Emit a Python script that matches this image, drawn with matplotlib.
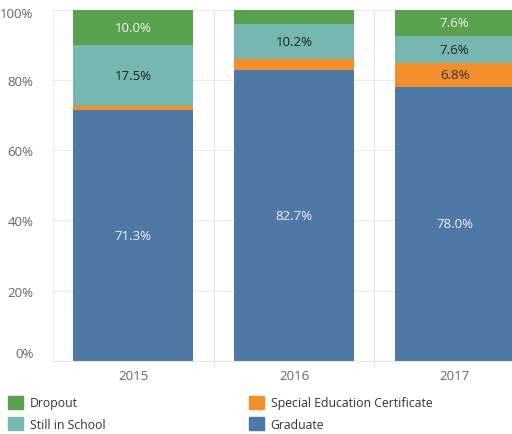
import matplotlib.pyplot as plt
import matplotlib.patches as mpatches
import matplotlib.transforms as mtransforms
import numpy as np

plt.rcParams['font.family'] = ['Open Sans', 'DejaVu Sans']

years = ['2015', '2016', '2017']
graduate = [71.3, 82.7, 78.0]
special_ed = [1.2, 3.1, 6.8]
still_in_school = [17.5, 10.2, 7.6]
dropout = [10.0, 4.0, 7.6]

# (name, values, colour, label colour)
series = [
    ('Graduate', graduate, '#4E79A7', '#EEF2F7'),
    ('Special Education Certificate', special_ed, '#F28E2B', '#333333'),
    ('Still in School', still_in_school, '#76B7B2', '#222222'),
    ('Dropout', dropout, '#59A14F', '#EEF5EC'),
]

fig = plt.figure(figsize=(5.12, 4.35), dpi=100)
ax = fig.add_axes([53 / 512, 1 - 362 / 435, 1 - 53 / 512, 351.5 / 435])

slot = 160.7
x = np.arange(len(years))
bottom = np.zeros(len(years))
for name, vals, col, tcol in series:
    vals = np.array(vals)
    ax.bar(x, vals, bottom=bottom, width=120 / slot, color=col, zorder=2)
    for xi, b, v in zip(x, bottom, vals):
        if v >= 5:
            ax.text(xi, b + v / 2, f'{v:.1f}%', ha='center', va='center',
                    fontsize=9.5, color=tcol, zorder=3)
    bottom += vals

ax.set_xlim(-0.5, -0.5 + (512 - 53) / slot)
ax.set_ylim(0, 100)
ax.set_yticks(np.arange(0, 101, 20))
ax.set_yticklabels([f'{v}%' for v in range(0, 101, 20)])
ax.set_xticks(x)
ax.set_xticklabels(years)
ax.set_xticks([0.5, 1.5], minor=True)
ax.tick_params(axis='both', which='major', length=0, labelsize=9.5, labelcolor='#666666')
ax.tick_params(axis='x', which='minor', length=4, color='#E6E6E6', width=0.8)
ax.tick_params(axis='x', pad=6)
ax.tick_params(axis='y', pad=14)

# Tableau nudges the end labels inside the axis range
ylabels = ax.get_yticklabels()
ylabels[0].set_transform(ylabels[0].get_transform() +
                         mtransforms.ScaledTranslation(0, 9 / 100, fig.dpi_scale_trans))
ylabels[-1].set_transform(ylabels[-1].get_transform() +
                          mtransforms.ScaledTranslation(0, -3 / 100, fig.dpi_scale_trans))

ax.grid(axis='y', color='#EBEBEB', linewidth=0.8, zorder=0)
for xb in [0.5, 1.5]:
    ax.axvline(xb, color='#E6E6E6', linewidth=0.8, zorder=1)
for s in ['top', 'right']:
    ax.spines[s].set_visible(False)
ax.spines['left'].set_color('#F0F0F0')
ax.spines['bottom'].set_color('#E6E6E6')

legend_cols = [
    (8, [('Dropout', '#59A14F'), ('Still in School', '#76B7B2')]),
    (249, [('Special Education Certificate', '#F28E2B'), ('Graduate', '#4E79A7')]),
]
for px, items in legend_cols:
    handles = [mpatches.Patch(color=c, label=n) for n, c in items]
    fig.legend(handles=handles, loc='upper left',
               bbox_to_anchor=(px / 512, 1 - 397 / 435), frameon=False,
               fontsize=8.8, labelcolor='#333333', handlelength=1.22,
               handleheight=1.22, handletextpad=0.55, labelspacing=0.62,
               borderaxespad=0, borderpad=0)

fig.savefig('out.png', dpi=100)
